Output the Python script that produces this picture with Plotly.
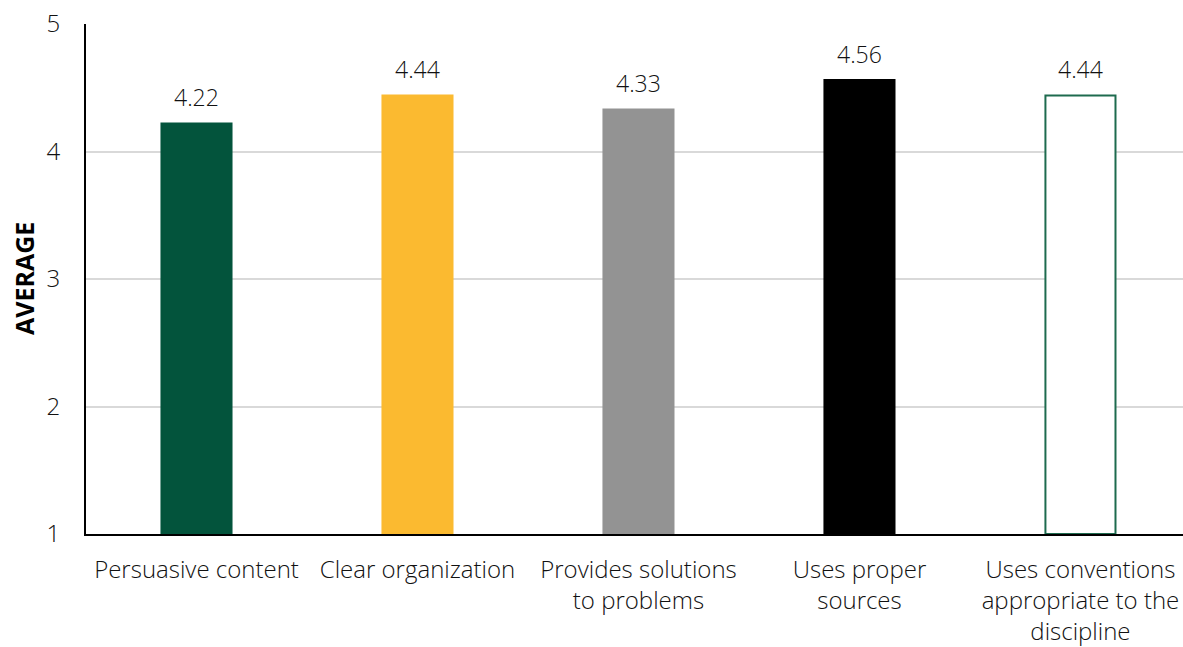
import plotly.graph_objects as go

categories = ["Persuasive content", "Clear organization", "Provides solutions<br>to problems",
              "Uses proper<br>sources", "Uses conventions<br>appropriate to the<br>discipline"]
values = [4.22, 4.44, 4.33, 4.56, 4.44]
value_labels = ["4.22", "4.44", "4.33", "4.56", "4.44"]
fill_colors = ["#03543C", "#FBBA30", "#939393", "#000000", "#FFFFFF"]
line_colors = ["#03543C", "#FBBA30", "#939393", "#000000", "#1E6B4F"]
y_ticks = [1, 2, 3, 4, 5]
y_title = "AVERAGE"

FONT = "Open Sans"
LIGHT = 300

fig = go.Figure()
fig.add_trace(go.Bar(
    x=list(range(len(categories))),
    y=[v - 1 for v in values],
    base=1,
    width=0.317,
    marker=dict(color=fill_colors, line=dict(color=line_colors, width=2)),
    hoverinfo="skip",
))

for i, (v, t) in enumerate(zip(values, value_labels)):
    fig.add_annotation(x=i, y=v, text=t, showarrow=False, yanchor="bottom", yshift=8,
                       font=dict(family=FONT, size=23, color="#111111", weight=LIGHT))

fig.add_annotation(xref="paper", yref="paper", x=0, y=0.5, xanchor="center", yanchor="middle",
                   xshift=-62, textangle=-90,
                   text="<b>" + y_title + "</b>", showarrow=False,
                   font=dict(family=FONT, size=25, color="#000000"))

fig.update_layout(
    width=1183, height=647,
    margin=dict(l=86, r=0, t=24, b=110),
    plot_bgcolor="white", paper_bgcolor="white",
    showlegend=False,
    font=dict(family=FONT, size=22, color="#111111"),
)
fig.update_xaxes(
    tickmode="array", tickvals=list(range(len(categories))), ticktext=categories,
    range=[-0.5, 4.464], showgrid=False, zeroline=False,
    showline=True, linecolor="#000000", linewidth=2,
    ticks="", tickfont=dict(family=FONT, size=24, color="#111111", weight=LIGHT),
    ticklabelstandoff=13,
)
fig.update_yaxes(
    range=[1, 5], tickmode="array", tickvals=y_ticks,
    showgrid=True, gridcolor="#D9D9D9", gridwidth=2, zeroline=False,
    showline=True, linecolor="#000000", linewidth=2,
    ticks="", tickfont=dict(family=FONT, size=24, color="#111111", weight=LIGHT),
    ticklabelstandoff=19,
)

fig.write_html("out.html", config={"displayModeBar": False},
               post_script="document.body.style.margin='0';document.body.style.overflow='hidden';")
